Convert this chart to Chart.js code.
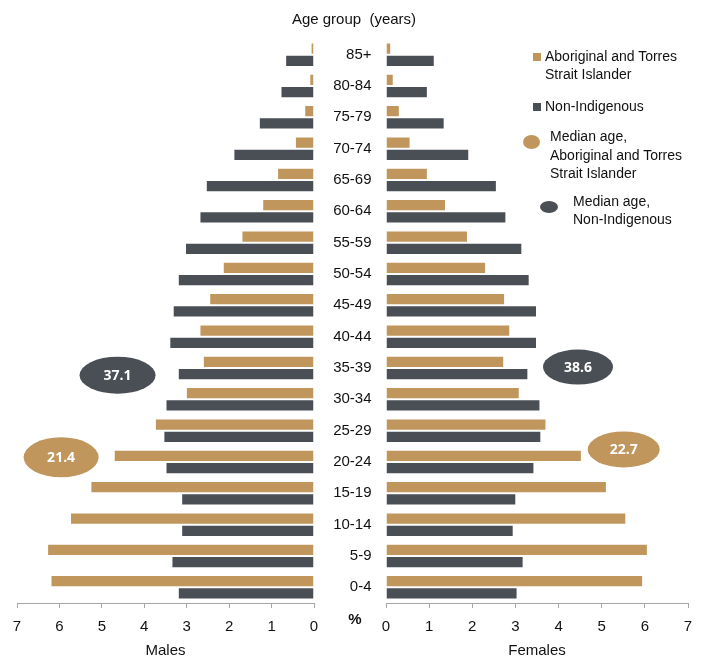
<!DOCTYPE html>
<html lang="en">
<head>
<meta charset="UTF-8">
<title>Age pyramid — Aboriginal and Torres Strait Islander vs Non-Indigenous</title>
<script src="https://cdn.jsdelivr.net/npm/chart.js"></script>
<style>
  body { margin: 0; background: #fff; font-family: "Liberation Sans", Arial, sans-serif; color: #111; }
  #wrap { position: relative; width: 704px; height: 660px; overflow: hidden; }
  canvas { position: absolute; top: 0; }
  #males { left: 0; }
  #females { left: 314px; }
  .txt { position: absolute; font-size: 15px; line-height: 18px; white-space: pre; }
  .leg { position: absolute; font-size: 14px; white-space: pre; color: #111; }
  .key { position: absolute; }
</style>
</head>
<body>
<div id="wrap">
  <canvas id="males" width="330" height="660"></canvas>
  <canvas id="females" width="390" height="660"></canvas>

  <div class="txt" style="left:254px; top:10px; width:200px; text-align:center;">Age group  (years)</div>
  <div class="txt" style="left:335px; top:610px; width:40px; text-align:center; font-weight:bold;">%</div>

  <!-- legend -->
  <div class="key" style="left:533px; top:53px; width:8px; height:8px; background:#C0965C;"></div>
  <div class="leg" style="left:545px; top:48px; line-height:17.6px;">Aboriginal and Torres
Strait Islander</div>
  <div class="key" style="left:533px; top:103px; width:8px; height:8px; background:#4A4F56;"></div>
  <div class="leg" style="left:545px; top:98px; line-height:17.6px;">Non-Indigenous</div>
  <div class="key" style="left:523px; top:135px; width:17px; height:14px; border-radius:50%; background:#C0965C;"></div>
  <div class="leg" style="left:550px; top:127px; line-height:18.5px;">Median age,
Aboriginal and Torres
Strait Islander</div>
  <div class="key" style="left:540px; top:201px; width:18px; height:12px; border-radius:50%; background:#4A4F56;"></div>
  <div class="leg" style="left:573px; top:193px; line-height:17.8px;">Median age,
Non-Indigenous</div>
</div>

<script>
  // age groups, top to bottom
  const ageGroups = ['85+', '80-84', '75-79', '70-74', '65-69', '60-64', '55-59', '50-54', '45-49',
                     '40-44', '35-39', '30-34', '25-29', '20-24', '15-19', '10-14', '5-9', '0-4'];

  // % of population in each age group
  const maleIndig      = [0.08, 0.11, 0.23, 0.45, 0.87, 1.22, 1.71, 2.15, 2.47, 2.70, 2.62, 3.02, 3.75, 4.72, 5.27, 5.75, 6.29, 6.21];
  const maleNonIndig   = [0.68, 0.79, 1.30, 1.90, 2.55, 2.70, 3.04, 3.21, 3.33, 3.41, 3.21, 3.50, 3.55, 3.50, 3.13, 3.13, 3.36, 3.21];
  const femaleIndig    = [0.12, 0.18, 0.32, 0.57, 0.97, 1.39, 1.90, 2.32, 2.76, 2.88, 2.74, 3.10, 3.72, 4.54, 5.12, 5.57, 6.07, 5.96];
  const femaleNonIndig = [1.13, 0.97, 1.36, 1.93, 2.57, 2.79, 3.16, 3.33, 3.50, 3.50, 3.30, 3.58, 3.60, 3.44, 3.02, 2.96, 3.19, 3.05];

  // median ages [males, females]
  const medianIndig    = [21.4, 22.7];
  const medianNonIndig = [37.1, 38.6];

  const xTickMax = 7;

  const GOLD = '#C0965C';
  const DARK = '#4A4F56';
  const INK = '#111';
  const AXIS = '#a6a6a6';

  Chart.defaults.font.family = '"Liberation Sans", Arial, sans-serif';
  Chart.defaults.color = INK;

  // ellipse badges showing the median age, placed in (value, category index) space
  function makeBadges(items) {
    return {
      id: 'medianBadges',
      afterDatasetsDraw(chart) {
        const { ctx, scales: { x, y } } = chart;
        items.forEach(b => {
          const cx = x.getPixelForValue(b.at[0]);
          const cy = y.getPixelForValue(b.at[1]);
          ctx.save();
          ctx.beginPath();
          ctx.ellipse(cx, cy, b.rx, b.ry, 0, 0, Math.PI * 2);
          ctx.fillStyle = b.color;
          ctx.fill();
          ctx.fillStyle = '#fff';
          ctx.font = 'bold 14px "Open Sans", sans-serif';
          ctx.textAlign = 'center';
          ctx.textBaseline = 'middle';
          ctx.fillText(b.value.toFixed(1), cx, cy + 1);
          ctx.restore();
        });
      }
    };
  }

  function pyramid(canvasId, indig, nonIndig, isMales, badges) {
    return new Chart(document.getElementById(canvasId), {
      type: 'bar',
      data: {
        labels: ageGroups,
        datasets: [
          { label: 'Aboriginal and Torres Strait Islander', data: indig, backgroundColor: GOLD,
            borderColor: 'rgba(255,255,255,0.55)', borderWidth: 1 },
          { label: 'Non-Indigenous', data: nonIndig, backgroundColor: DARK,
            borderColor: 'rgba(255,255,255,0.55)', borderWidth: 1 }
        ]
      },
      options: {
        indexAxis: 'y',
        responsive: false,
        animation: false,
        layout: { padding: { top: 39, bottom: 0, left: isMales ? 17 : 0, right: 16 } },
        datasets: { bar: { categoryPercentage: 0.78, barPercentage: 1 } },
        plugins: { legend: { display: false }, tooltip: { enabled: false } },
        scales: {
          x: {
            min: 0, max: xTickMax, reverse: isMales,
            ticks: { stepSize: 1, padding: 10, maxRotation: 0, color: INK, font: { size: 15 } },
            grid: { drawOnChartArea: false, drawTicks: true, tickLength: 5, color: AXIS },
            border: { color: AXIS },
            title: { display: true, text: isMales ? 'Males' : 'Females', color: INK,
                     font: { size: 15 }, padding: { top: 0, bottom: 0 } },
            afterFit(s) { s.height = 57; }
          },
          y: {
            display: !isMales,
            position: 'left',
            grid: { display: false, drawTicks: false },
            border: { display: false },
            ticks: { padding: 14.5, crossAlign: 'near', color: INK, font: { size: 15 } },
            afterFit(s) { s.width = isMales ? 0 : 72; }
          }
        }
      },
      plugins: [makeBadges(badges)]
    });
  }

  pyramid('males', maleIndig, maleNonIndig, true, [
    { value: medianNonIndig[0], at: [4.63, 10.23], rx: 38, ry: 18.5, color: DARK },
    { value: medianIndig[0],    at: [5.96, 12.85], rx: 37.5, ry: 20, color: GOLD }
  ]);
  pyramid('females', femaleIndig, femaleNonIndig, false, [
    { value: medianNonIndig[1], at: [4.45, 9.97], rx: 35, ry: 17.5, color: DARK },
    { value: medianIndig[1],    at: [5.51, 12.6], rx: 36, ry: 18, color: GOLD }
  ]);
</script>
</body>
</html>
